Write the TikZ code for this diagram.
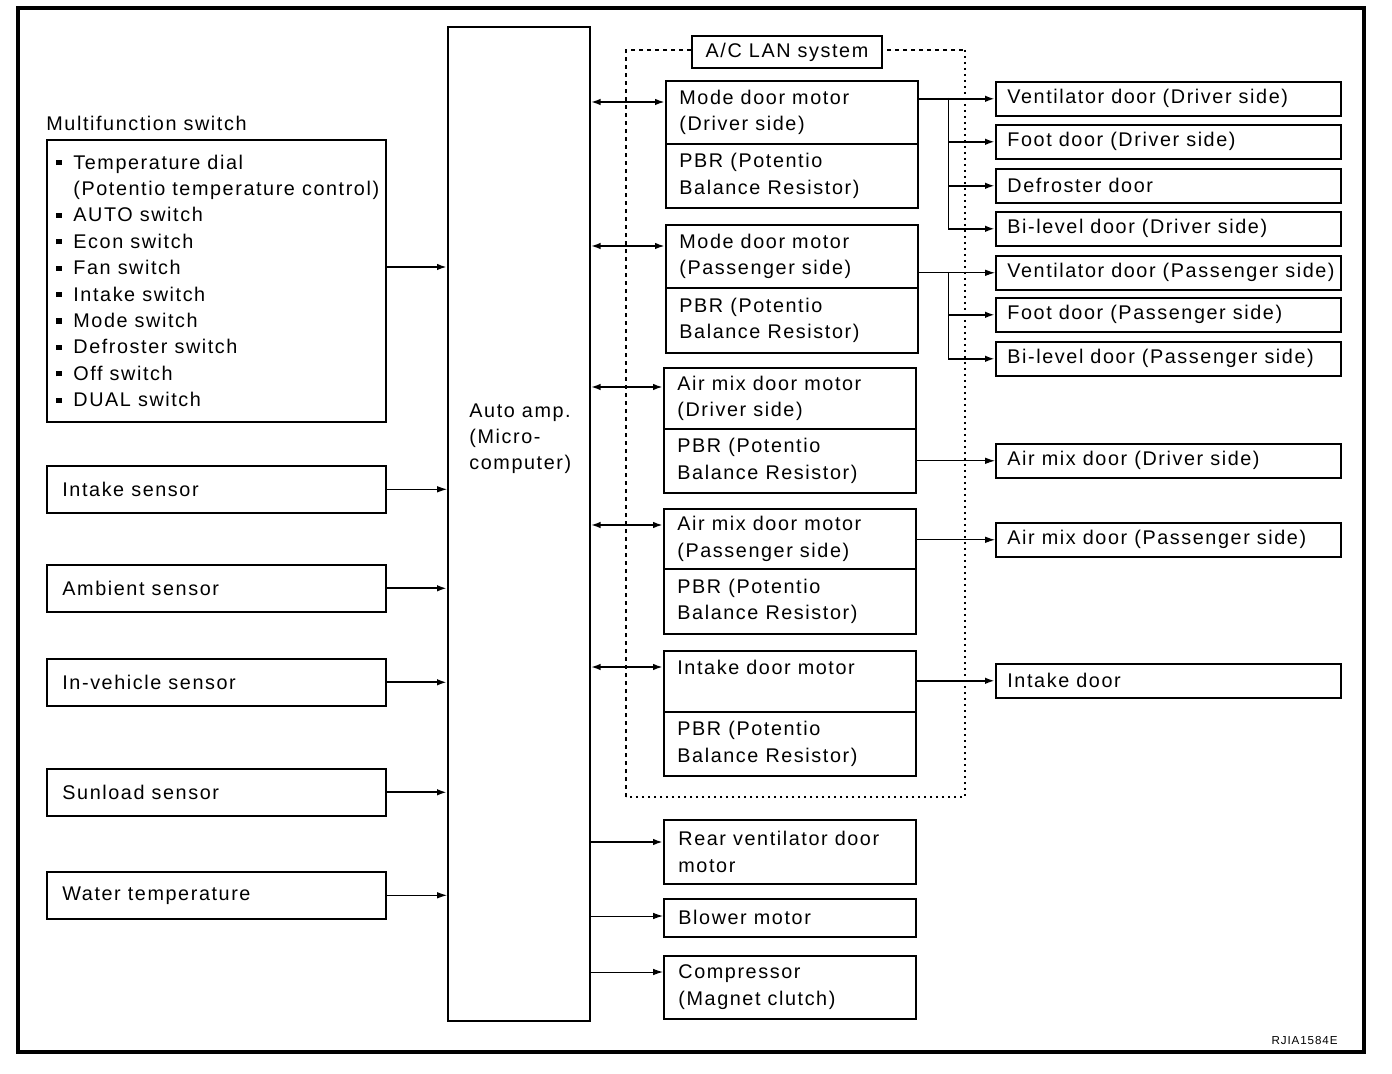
\documentclass[tikz,border=0pt]{standalone}
\usepackage{fontspec}
\setmainfont{Liberation Sans}[LetterSpace=8]
\usetikzlibrary{arrows.meta,positioning}
\newcommand{\sqbul}{\makebox[8.5pt][l]{\rule[0.2em]{2.6pt}{2.6pt}}}

\begin{document}
\begin{tikzpicture}[x=0.5pt,y=-0.5pt,line join=miter,
  font=\fontsize{9.9}{13.2}\selectfont,
  >={Latex[length=5pt,width=3.3pt]},
  box/.style={draw,line width=0.8pt,anchor=north west,inner sep=0pt},
  txt/.style={anchor=west,align=left,inner sep=0pt},
  thk/.style={line width=1pt},
  thn/.style={line width=0.5pt}]
\useasboundingbox (0,0) rectangle (1392,1074);
\draw[line width=2pt] (18,8) rectangle (1364,1052);
% control unit
\node[box,minimum width=71pt,minimum height=497pt,
  label={[txt,xshift=11pt,yshift=42.5pt]west:Auto amp.\\(Micro-\\computer)}] (amp) at (447,26) {};
% inputs
\node[box,minimum width=169.5pt,minimum height=141pt,
  label={[txt,anchor=south west,yshift=4pt]north west:Multifunction switch},
  label={[txt,xshift=5pt]west:\sqbul Temperature dial\\\hspace*{8.5pt}(Potentio temperature control)\\
    \sqbul AUTO switch\\\sqbul Econ switch\\\sqbul Fan switch\\\sqbul Intake switch\\
    \sqbul Mode switch\\\sqbul Defroster switch\\\sqbul Off switch\\\sqbul DUAL switch}] (mfsw) at (46,139) {};
\draw[thk,->] (mfsw.east |- 0,267) -- (amp.west |- 0,267);
\foreach \nm/\y/\w/\t in {sIntake/465/thn/Intake sensor, sAmb/564/thk/Ambient sensor,
    sInveh/658/thk/In-vehicle sensor, sSun/768/thk/Sunload sensor, sWater/871/thn/Water temperature}{
  \node[box,minimum width=169.5pt,minimum height=23.5pt,label={[txt,xshift=8pt]west:\t}] (\nm) at (46,\y) {};
  \draw[\w,->] (\nm.east) -- (amp.west |- \nm.east);
}
% A/C LAN frame
\draw[line width=0.6pt,dash pattern=on 2pt off 2pt] (626,797) -- (626,50) -- (965,50);
\draw[line width=1pt,dash pattern=on 1pt off 2pt] (965,50) -- (965,797) -- (626,797);
\node[draw,fill=white,line width=0.8pt,minimum width=95pt,minimum height=16pt,inner sep=0pt] (lan) at (787,52) {A/C LAN system};
% motors with PBR: name/x/top/divider/bottom/arrow y/label shift/text
\foreach \nm/\x/\t/\m/\b/\ya/\ys/\txt in {modeD/665/80/143/207/102/0/{Mode door motor\\(Driver side)},
    modeP/665/224/287/352/246/0/{Mode door motor\\(Passenger side)},
    amixD/663/367/428/492/387/0/{Air mix door motor\\(Driver side)},
    amixP/663/508/568/633/525/0/{Air mix door motor\\(Passenger side)},
    intk/663/650/711/775/667/6.75/{Intake door motor}}{
  \node[box,minimum width=126pt,minimum height={(\m-\t)*0.5pt},
    label={[txt,xshift=7pt,yshift=\ys pt]west:\txt}] (\nm) at (\x,\t) {};
  \node[box,minimum width=126pt,minimum height={(\b-\m)*0.5pt},
    label={[txt,xshift=7pt]west:PBR (Potentio\\Balance Resistor)}] (\nm b) at (\x,\m) {};
  \draw[thk,<->] (amp.east |- 0,\ya) -- (\nm.west |- 0,\ya);
}
% other outputs
\node[box,minimum width=126pt,minimum height=32pt,label={[txt,xshift=7.5pt]west:Rear ventilator door\\motor}] (rvent) at (663,819) {};
\node[box,minimum width=126pt,minimum height=19pt,label={[txt,xshift=7.5pt]west:Blower motor}] (blower) at (663,898) {};
\node[box,minimum width=126pt,minimum height=31.5pt,label={[txt,xshift=7.5pt]west:Compressor\\(Magnet clutch)}] (comp) at (663,955) {};
\draw[thk,->] (amp.east |- 0,842) -- (rvent.west |- 0,842);
\draw[thn,->] (amp.east |- 0,916) -- (blower.west |- 0,916);
\draw[thn,->] (amp.east |- 0,972) -- (comp.west |- 0,972);
% doors
\foreach \nm/\y/\t in {dVentD/81/Ventilator door (Driver side), dFootD/124/Foot door (Driver side),
    dDef/168/Defroster door, dBiD/211/Bi-level door (Driver side),
    dVentP/255/Ventilator door (Passenger side), dFootP/297/Foot door (Passenger side),
    dBiP/341/Bi-level door (Passenger side), dAmixD/443/Air mix door (Driver side),
    dAmixP/522/Air mix door (Passenger side), dIntk/663/Intake door}{
  \node[box,minimum width=172.5pt,minimum height=17pt,label={[txt,xshift=6pt]west:\t}] (\nm) at (995,\y) {};
}
\coordinate (brD) at (948,98);
\coordinate (brP) at (948,272);
\draw[thk,->] (modeD.east |- dVentD) -- (dVentD.west);
\draw[thn] (brD) -- (brD |- dBiD);
\foreach \d in {dFootD,dDef,dBiD} \draw[thk,->] (brD |- \d) -- (\d.west);
\draw[thn,->] (modeP.east |- dVentP) -- (dVentP.west);
\draw[thn] (brP) -- (brP |- dBiP);
\foreach \d in {dFootP,dBiP} \draw[thk,->] (brP |- \d) -- (\d.west);
\draw[thn,->] (amixDb.east |- dAmixD) -- (dAmixD.west);
\draw[thn,->] (amixP.east |- dAmixP) -- (dAmixP.west);
\draw[thk,->] (intk.east |- dIntk) -- (dIntk.west);
\node[anchor=east,font=\fontsize{5.8}{6}\selectfont,inner sep=0pt] (code) at (1338,1041) {RJIA1584E};
\end{tikzpicture}
\end{document}
